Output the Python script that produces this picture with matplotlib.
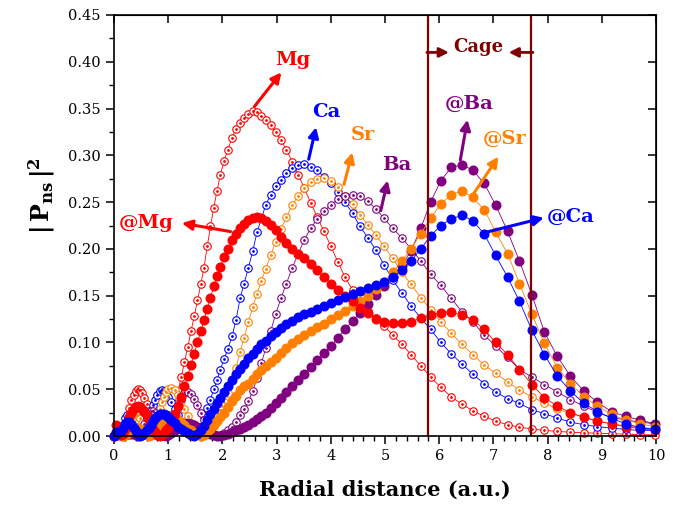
import numpy as np
import matplotlib.pyplot as plt
from matplotlib.ticker import MultipleLocator, FormatStrFormatter

plt.rcParams['font.family'] = 'DejaVu Serif'
plt.rcParams['mathtext.fontset'] = 'dejavuserif'

# radial grid (a.u.)
r = [0.00, 0.04, 0.08, 0.12, 0.16, 0.20, 0.24, 0.28, 0.32, 0.36, 0.40, 0.44, 0.48,
     0.52, 0.56, 0.60, 0.64, 0.68, 0.72, 0.76, 0.80, 0.84, 0.88, 0.92, 0.96,
     1.00, 1.06, 1.12, 1.18, 1.24, 1.30, 1.36, 1.42, 1.48, 1.54, 1.60, 1.66, 1.72,
     1.78, 1.84, 1.90, 1.96,
     2.03, 2.10, 2.18, 2.25, 2.33, 2.40, 2.48, 2.56, 2.64, 2.72, 2.80, 2.89, 2.98,
     3.08, 3.18, 3.29, 3.40, 3.51, 3.63, 3.75, 3.87, 4.00, 4.13, 4.26, 4.40, 4.54,
     4.68, 4.83, 4.98,
     5.14, 5.31, 5.48, 5.66, 5.84, 6.03, 6.22, 6.42, 6.62, 6.83, 7.04, 7.26, 7.48,
     7.71, 7.94, 8.18, 8.42, 8.67, 8.92, 9.18, 9.44, 9.71, 9.98]

# free atoms (open circles)
mg = [0.000, 0.012, 0.010, 0.002, 0.002, 0.010, 0.020, 0.030, 0.038, 0.044, 0.048, 0.050, 0.049,
      0.046, 0.041, 0.034, 0.027, 0.019, 0.012, 0.006, 0.002, 0.000, 0.001, 0.004, 0.008,
      0.013, 0.022, 0.034, 0.048, 0.063, 0.079, 0.095, 0.112, 0.128, 0.145, 0.162, 0.180, 0.203,
      0.224, 0.244, 0.262, 0.279,
      0.294, 0.306, 0.319, 0.328, 0.335, 0.340, 0.344, 0.347, 0.346, 0.342, 0.338, 0.332, 0.325,
      0.316, 0.306, 0.293, 0.279, 0.265, 0.249, 0.234, 0.219, 0.203, 0.186, 0.170, 0.156, 0.143,
      0.134, 0.126, 0.118,
      0.108, 0.098, 0.087, 0.075, 0.063, 0.052, 0.042, 0.034, 0.027, 0.021, 0.016, 0.012, 0.0095,
      0.0075, 0.006, 0.005, 0.004, 0.0035, 0.003, 0.0025, 0.002, 0.0015, 0.001]
ca = [0.000, 0.004, 0.002, 0.004, 0.012, 0.019, 0.022, 0.021, 0.017, 0.011, 0.006, 0.002, 0.000,
      0.002, 0.006, 0.012, 0.019, 0.026, 0.033, 0.039, 0.044, 0.048, 0.049, 0.048, 0.046,
      0.042, 0.036, 0.029, 0.022, 0.015, 0.010, 0.005, 0.002, 0.000, 0.003, 0.010, 0.020, 0.030,
      0.039, 0.050, 0.060, 0.071,
      0.082, 0.093, 0.107, 0.124, 0.148, 0.163, 0.180, 0.198, 0.218, 0.233, 0.247, 0.258, 0.267,
      0.274, 0.281, 0.286, 0.290, 0.291, 0.288, 0.284, 0.277, 0.270, 0.261, 0.250, 0.238, 0.224,
      0.212, 0.199, 0.183,
      0.167, 0.153, 0.139, 0.126, 0.114, 0.100, 0.088, 0.077, 0.066, 0.056, 0.047, 0.040, 0.035,
      0.028, 0.024, 0.019, 0.015, 0.012, 0.010, 0.0085, 0.007, 0.006, 0.006]
sr = [0.000, 0.003, 0.004, 0.002, 0.001, 0.002, 0.006, 0.011, 0.016, 0.020, 0.022, 0.022, 0.019,
      0.014, 0.008, 0.003, 0.001, 0.003, 0.008, 0.015, 0.022, 0.029, 0.036, 0.042, 0.047,
      0.050, 0.051, 0.049, 0.044, 0.037, 0.029, 0.021, 0.014, 0.008, 0.004, 0.001, 0.001, 0.004,
      0.009, 0.015, 0.021, 0.028,
      0.036, 0.046, 0.060, 0.073, 0.090, 0.105, 0.122, 0.138, 0.152, 0.166, 0.179, 0.193, 0.207,
      0.221, 0.234, 0.247, 0.257, 0.265, 0.271, 0.275, 0.276, 0.273, 0.266, 0.257, 0.248, 0.236,
      0.226, 0.215, 0.203,
      0.190, 0.175, 0.162, 0.148, 0.135, 0.122, 0.110, 0.098, 0.087, 0.076, 0.067, 0.058, 0.049,
      0.042, 0.035, 0.029, 0.024, 0.020, 0.016, 0.013, 0.011, 0.009, 0.008]
ba = [0.000, 0.002, 0.003, 0.002, 0.001, 0.003, 0.006, 0.008, 0.008, 0.006, 0.003, 0.001, 0.002,
      0.007, 0.013, 0.019, 0.024, 0.027, 0.027, 0.025, 0.020, 0.014, 0.008, 0.003, 0.001,
      0.003, 0.010, 0.020, 0.031, 0.040, 0.046, 0.047, 0.045, 0.040, 0.033, 0.025, 0.017, 0.010,
      0.005, 0.002, 0.000, 0.001,
      0.003, 0.006, 0.010, 0.015, 0.022, 0.029, 0.037, 0.048, 0.062, 0.078, 0.094, 0.112, 0.130,
      0.147, 0.163, 0.180, 0.195, 0.210, 0.222, 0.232, 0.240, 0.247, 0.253, 0.257, 0.258, 0.256,
      0.251, 0.243, 0.233,
      0.222, 0.212, 0.200, 0.187, 0.173, 0.161, 0.147, 0.133, 0.122, 0.108, 0.096, 0.084, 0.071,
      0.063, 0.055, 0.047, 0.039, 0.032, 0.025, 0.020, 0.017, 0.015, 0.013]

# endohedral atoms @C60 (filled circles)
mg_at = [0.000, 0.012, 0.008, 0.001, 0.002, 0.007, 0.014, 0.020, 0.025, 0.029, 0.031, 0.032, 0.031,
         0.029, 0.026, 0.022, 0.017, 0.012, 0.008, 0.004, 0.001, 0.000, 0.001, 0.003, 0.006,
         0.009, 0.015, 0.023, 0.032, 0.042, 0.053, 0.064, 0.076, 0.088, 0.100, 0.112, 0.124, 0.136,
         0.148, 0.160, 0.171, 0.181,
         0.191, 0.200, 0.209, 0.216, 0.222, 0.227, 0.231, 0.233, 0.234, 0.233, 0.230, 0.226, 0.220,
         0.213, 0.206, 0.200, 0.195, 0.190, 0.184, 0.177, 0.170, 0.163, 0.156, 0.150, 0.144, 0.137,
         0.131, 0.125, 0.122,
         0.121, 0.121, 0.122, 0.126, 0.129, 0.132, 0.133, 0.129, 0.124, 0.114, 0.100, 0.087, 0.071,
         0.055, 0.041, 0.032, 0.025, 0.020, 0.016, 0.013, 0.010, 0.008, 0.006]
ca_at = [0.000, 0.004, 0.003, 0.005, 0.009, 0.013, 0.015, 0.015, 0.013, 0.009, 0.005, 0.002, 0.000,
         0.001, 0.003, 0.006, 0.009, 0.012, 0.016, 0.019, 0.021, 0.023, 0.023, 0.023, 0.022,
         0.020, 0.017, 0.014, 0.010, 0.007, 0.005, 0.003, 0.001, 0.000, 0.002, 0.006, 0.011, 0.017,
         0.023, 0.029, 0.035, 0.041,
         0.047, 0.053, 0.060, 0.066, 0.072, 0.077, 0.083, 0.088, 0.093, 0.098, 0.102, 0.107, 0.111,
         0.115, 0.120, 0.123, 0.127, 0.130, 0.133, 0.136, 0.139, 0.142, 0.145, 0.149, 0.152, 0.155,
         0.158, 0.161, 0.165,
         0.170, 0.177, 0.187, 0.200, 0.214, 0.225, 0.232, 0.236, 0.230, 0.216, 0.193, 0.170, 0.144,
         0.113, 0.087, 0.064, 0.048, 0.035, 0.026, 0.019, 0.013, 0.009, 0.007]
sr_at = [0.000, 0.001, 0.002, 0.001, 0.000, 0.001, 0.002, 0.004, 0.006, 0.008, 0.009, 0.009, 0.008,
         0.006, 0.003, 0.001, 0.000, 0.001, 0.003, 0.006, 0.009, 0.012, 0.014, 0.017, 0.019,
         0.020, 0.020, 0.019, 0.017, 0.015, 0.012, 0.008, 0.006, 0.003, 0.002, 0.000, 0.001, 0.004,
         0.008, 0.012, 0.016, 0.020,
         0.025, 0.031, 0.037, 0.043, 0.049, 0.053, 0.056, 0.061, 0.066, 0.071, 0.075, 0.079, 0.083,
         0.089, 0.094, 0.099, 0.104, 0.108, 0.112, 0.116, 0.120, 0.125, 0.129, 0.134, 0.139, 0.144,
         0.150, 0.157, 0.165,
         0.175, 0.187, 0.200, 0.216, 0.233, 0.248, 0.258, 0.262, 0.255, 0.242, 0.218, 0.195, 0.163,
         0.130, 0.099, 0.073, 0.056, 0.042, 0.032, 0.023, 0.017, 0.013, 0.010]
ba_at = [0.000, 0.001, 0.001, 0.001, 0.000, 0.001, 0.002, 0.002, 0.002, 0.002, 0.001, 0.000, 0.001,
         0.002, 0.004, 0.006, 0.007, 0.008, 0.008, 0.008, 0.006, 0.004, 0.002, 0.001, 0.000,
         0.001, 0.003, 0.006, 0.009, 0.012, 0.014, 0.014, 0.013, 0.012, 0.010, 0.008, 0.005, 0.003,
         0.002, 0.001, 0.000, 0.000,
         0.001, 0.002, 0.004, 0.006, 0.008, 0.010, 0.012, 0.015, 0.018, 0.021, 0.025, 0.030, 0.035,
         0.041, 0.047, 0.053, 0.060, 0.066, 0.074, 0.081, 0.089, 0.096, 0.105, 0.114, 0.123, 0.132,
         0.141, 0.151, 0.160,
         0.170, 0.182, 0.198, 0.222, 0.250, 0.273, 0.287, 0.290, 0.284, 0.270, 0.247, 0.219, 0.187,
         0.151, 0.111, 0.085, 0.064, 0.048, 0.036, 0.026, 0.021, 0.017, 0.013]

cage = [5.8, 7.7]

red, blue, orange, purple = '#ff0000', '#0000ff', '#ff8000', '#800080'
cage_col = '#7f0000'

fig = plt.figure(figsize=(6.84, 5.08), dpi=100)
ax = fig.add_axes([0.1667, 0.1417, 0.7924, 0.8288])

# free atoms: open circles with a dot in the middle
for y, c in [(mg, red), (ca, blue), (sr, orange), (ba, purple)]:
    ax.plot(r, y, '-o', color=c, lw=0.6, ms=5.4, mfc='white', mec=c, mew=0.8, clip_on=False)
    ax.plot(r, y, 'o', color=c, ms=1.0, lw=0, clip_on=False)

# endohedral atoms: filled circles
for y, c in [(ba_at, purple), (sr_at, orange), (mg_at, red), (ca_at, blue)]:
    ax.plot(r, y, '-o', color=c, lw=0.6, ms=6.2, mec=c, clip_on=False)

for xc in cage:
    ax.axvline(xc, color=cage_col, lw=1.6)
ax.text(6.73, 0.416, 'Cage', color=cage_col, fontsize=13, fontweight='bold',
        ha='center', va='center')
ax.annotate('', xy=(6.23, 0.410), xytext=(5.72, 0.410),
            arrowprops=dict(arrowstyle='-|>', color=cage_col, lw=2, mutation_scale=14))
ax.annotate('', xy=(7.23, 0.410), xytext=(7.78, 0.410),
            arrowprops=dict(arrowstyle='-|>', color=cage_col, lw=2, mutation_scale=14))

# labels with arrows
notes = [
    ('Mg', red, (3.12, 0.391), (2.56, 0.350), (3.30, 0.402)),
    ('Ca', blue, (3.74, 0.333), (3.58, 0.293), (3.92, 0.346)),
    ('Sr', orange, (4.41, 0.306), (4.23, 0.266), (4.60, 0.322)),
    ('Ba', purple, (5.06, 0.276), (4.91, 0.238), (5.22, 0.290)),
    ('@Ba', purple, (6.53, 0.341), (6.38, 0.292), (6.55, 0.355)),
    ('@Sr', orange, (7.12, 0.301), (6.60, 0.256), (7.20, 0.318)),
    ('@Ca', blue, (7.98, 0.234), (6.81, 0.217), (8.42, 0.234)),
    ('@Mg', red, (1.20, 0.228), (2.20, 0.218), (0.60, 0.228)),
]
for txt, c, tip, tail, pos in notes:
    ax.annotate('', xy=tip, xytext=tail,
                arrowprops=dict(arrowstyle='-|>', color=c, lw=2.2, mutation_scale=15))
    ax.text(pos[0], pos[1], txt, color=c, fontsize=14, fontweight='bold',
            ha='center', va='center')

ax.set_xlim(0, 10)
ax.set_ylim(0, 0.45)
ax.xaxis.set_major_locator(MultipleLocator(1))
ax.xaxis.set_minor_locator(MultipleLocator(0.2))
ax.yaxis.set_major_locator(MultipleLocator(0.05))
ax.yaxis.set_minor_locator(MultipleLocator(0.025))
ax.yaxis.set_major_formatter(FormatStrFormatter('%.2f'))
ax.tick_params(which='major', direction='out', length=6, width=1.1, labelsize=10.5)
ax.tick_params(which='minor', direction='out', length=3.5, width=1.0)
for s in ax.spines.values():
    s.set_linewidth(1.2)

top = ax.secondary_xaxis('top')
top.set_xticks(range(11))
top.tick_params(direction='in', length=6, width=1.1, labeltop=False)
right = ax.secondary_yaxis('right')
right.set_yticks(np.arange(0, 0.46, 0.05))
right.tick_params(direction='in', length=6, width=1.1, labelright=False)

ax.set_xlabel('Radial distance (a.u.)', fontsize=15, fontweight='bold', labelpad=12)
ax.set_ylabel(r'$\mathbf{|\,P_{ns}\,|^2}$', fontsize=17)
ax.yaxis.set_label_coords(-0.105, 0.57)

fig.savefig('out.png', dpi=100)
